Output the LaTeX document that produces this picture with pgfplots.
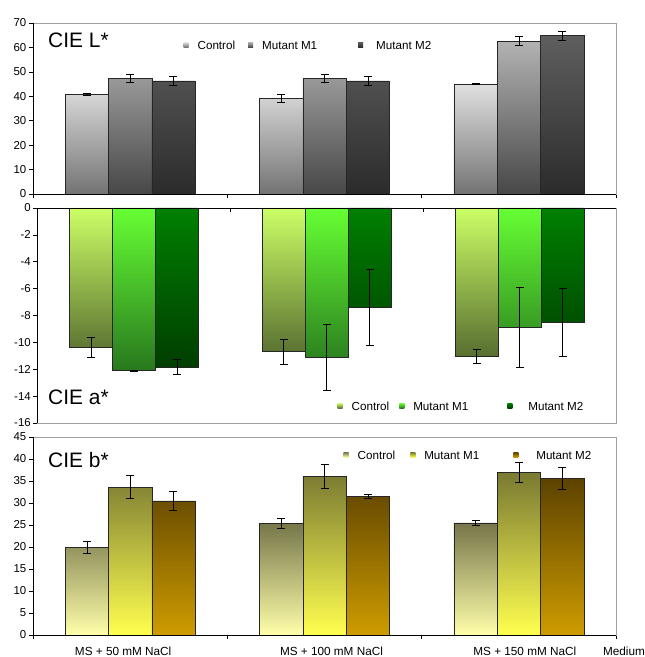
\documentclass[border=0pt]{standalone}
\usepackage{pgfplots}
\pgfplotsset{compat=1.18}
\usepackage{fontspec}
\setmainfont{Liberation Sans}
\definecolor{framec}{HTML}{A0A0A0}
\tikzset{ttl/.style={anchor=base west, font=\fontsize{21}{24}\selectfont, inner sep=0pt},
  cat/.style={font=\fontsize{11.8}{13}\selectfont}}
\begin{document}
\begin{tikzpicture}
\pgfplotsset{
  panel/.style={
    scale only axis, width=583bp, anchor=south west,
    xmin=-0.5, xmax=2.5,
    xtick={-0.5,0.5,1.5,2.5}, xticklabels={},
    ytick pos=left,
    tick align=outside,
    major tick length=4bp,
    axis line style={draw=framec, line width=0.8pt},
    every tick/.style={black, line width=0.6pt},
    yticklabel style={font=\fontsize{11.5}{13}\selectfont, inner sep=2.5bp},
    /pgf/number format/assume math mode=true,
    clip=false,
    legend columns=3,
    legend style={draw=none, fill=none, font=\fontsize{11.7}{13}\selectfont, inner sep=0pt, anchor=west,
      /tikz/every odd column/.append style={column sep=7bp},
      /tikz/every even column/.append style={column sep=8bp}},
    legend cell align=left,
  },
  bars/.style={ybar, bar width=0.2229, bar shift=0, draw=black!85, line width=0.6pt,
    error bars/y dir=both, error bars/y explicit,
    error bars/error bar style={black, line width=0.6pt},
    error bars/error mark options={rotate=90, black, mark size=4bp, line width=0.6pt},
    legend image code/.code={\path[##1, draw=none] (0bp,-1.2bp) rectangle (5bp,3.8bp);}},
}
% ---------------- CIE L* ----------------
\begin{axis}[panel, at={(33bp,463bp)}, height=171bp, ymin=0, ymax=70, ytick={0,10,...,70},
  xtick pos=left,
  legend style={at={(0.258,0.8655)}}]
\addplot[bars, top color=white!88!black, middle color=white!70!black, bottom color=white!45!black]
  coordinates {(-0.2229,40.8) +- (0,0.6) (0.7771,39.1) +- (0,1.6) (1.7771,45.1) +- (0,0.2)};
\addplot[bars, top color=white!70!black, middle color=white!50!black, bottom color=white!28!black]
  coordinates {(0,47.4) +- (0,1.5) (1,47.4) +- (0,1.5) (2,62.6) +- (0,1.8)};
\addplot[bars, top color=white!37!black, bottom color=white!17!black]
  coordinates {(0.2229,46.3) +- (0,1.7) (1.2229,46.3) +- (0,1.7) (2.2229,64.8) +- (0,1.8)};
\legend{Control\hspace*{3bp}, Mutant M1\hspace*{31bp}, \hspace*{4bp}Mutant M2}
\draw[black, line width=0.8pt] (rel axis cs:0,0) -- (rel axis cs:0,1);
\draw[black, line width=0.8pt] (rel axis cs:0,0) -- (rel axis cs:1,0);
\node[ttl] at (rel axis cs:0,1) [xshift=15bp, yshift=-24.7bp] {CIE L*};
\end{axis}
% ---------------- CIE a* ----------------
\begin{axis}[panel, at={(37.5bp,234bp)}, width=578.5bp, height=215bp, ymin=-16, ymax=0, ytick={-16,-14,...,0},
  xtick pos=right, x tick style={yshift=-4bp},
  legend style={at={(0.5186,0.0744)}}]
\addplot[bars, top color={rgb,255:red,204;green,255;blue,102}, bottom color={rgb,255:red,88;green,110;blue,48}]
  coordinates {(-0.2229,-10.35) +- (0,0.74) (0.7771,-10.69) +- (0,0.94) (1.7771,-11.02) +- (0,0.52)};
\addplot[bars, top color={rgb,255:red,102;green,255;blue,51}, bottom color={rgb,255:red,40;green,120;blue,30}]
  coordinates {(0,-12.1) +- (0,0.05) (1,-11.09) +- (0,2.46) (2,-8.86) +- (0,2.98)};
\addplot[bars, top color={rgb,255:red,0;green,128;blue,0}, bottom color={rgb,255:red,0;green,62;blue,0}]
  coordinates {(0.2229,-11.83) +- (0,0.57) (1.2229,-7.41) +- (0,2.82) (2.2229,-8.50) +- (0,2.53)};
\legend{Control, Mutant M1\hspace*{29bp}, \hspace*{7bp}Mutant M2}
\draw[black, line width=0.8pt] (rel axis cs:0,0) -- (rel axis cs:0,1);
\draw[black, line width=0.8pt] (rel axis cs:0,1) -- (rel axis cs:1,1);
\node[ttl] at (rel axis cs:0,0) [xshift=10.5bp, yshift=18bp] {CIE a*};
\end{axis}
% ---------------- CIE b* ----------------
\begin{axis}[panel, at={(33bp,22bp)}, height=198bp, ymin=0, ymax=45, ytick={0,5,...,45},
  xtick pos=left,
  legend style={at={(0.5326,0.904)}}]
\addplot[bars, top color={rgb,255:red,118;green,118;blue,74}, middle color={rgb,255:red,215;green,215;blue,150}, bottom color={rgb,255:red,255;green,255;blue,170}]
  coordinates {(-0.2229,19.9) +- (0,1.44) (0.7771,25.4) +- (0,1.2) (1.7771,25.5) +- (0,0.6)};
\addplot[bars, top color={rgb,255:red,122;green,122;blue,50}, middle color={rgb,255:red,200;green,200;blue,70}, bottom color={rgb,255:red,255;green,255;blue,80}]
  coordinates {(0,33.6) +- (0,2.6) (1,36.0) +- (0,2.7) (2,36.9) +- (0,2.3)};
\addplot[bars, top color={rgb,255:red,92;green,66;blue,0}, bottom color={rgb,255:red,206;green,156;blue,0}]
  coordinates {(0.2229,30.5) +- (0,2.2) (1.2229,31.5) +- (0,0.5) (2.2229,35.6) +- (0,2.5)};
\legend{Control\hspace*{5bp}, Mutant M1\hspace*{24bp}, \hspace*{9bp}Mutant M2}
\draw[black, line width=0.8pt] (rel axis cs:0,0) -- (rel axis cs:0,1);
\draw[black, line width=0.8pt] (rel axis cs:0,0) -- (rel axis cs:1,0);
\node[ttl] at (rel axis cs:0,1) [xshift=15bp, yshift=-30bp] {CIE b*};
\node[cat] at (axis cs:0,0) [xshift=-7bp, yshift=-16bp] {MS + 50 mM NaCl};
\node[cat] at (axis cs:1,0) [xshift=7bp, yshift=-16bp] {MS + 100 mM NaCl};
\node[cat] at (axis cs:2,0) [xshift=6bp, yshift=-16bp] {MS + 150 mM NaCl};
\node[cat] at (rel axis cs:1,0) [xshift=8bp, yshift=-16bp] {Medium};
\end{axis}
\pgfresetboundingbox
\useasboundingbox (0bp,0bp) rectangle (645bp,657bp);
\end{tikzpicture}
\end{document}
